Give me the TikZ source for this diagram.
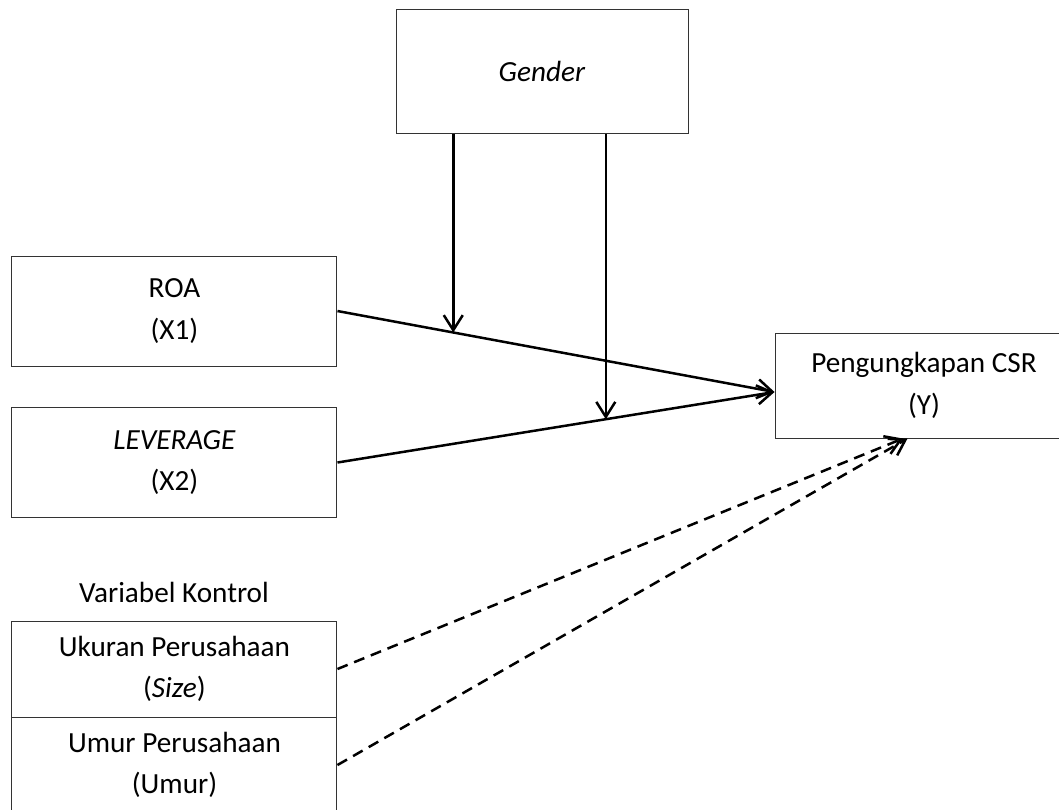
\documentclass[tikz,border=0pt]{standalone}
\usepackage{fontspec}
\setmainfont{Carlito}
\usetikzlibrary{positioning,arrows.meta,calc}

\begin{document}
\begin{tikzpicture}[>={Straight Barb[length=7.5pt,width=9.5pt]}, font=\fontsize{14.6}{20.8}\selectfont,
    b/.style={draw=black!80, line width=0.5pt, align=center, minimum width=5.711cm, minimum height=1.933cm},
    link/.style={->, line width=1.25pt},
    ctrl/.style={->, line width=1.25pt, dash pattern=on 5.5pt off 3.5pt}]
  \useasboundingbox (0,0) rectangle (18.61,14.217);

  \node[b, minimum width=5.131cm, minimum height=2.179cm] (gen) at (9.525,12.969) {\textit{Gender}};
  \node[b] (roa) at (3.066,8.751) {ROA\\(X1)};
  \node[b] (lev) at (3.066,6.089) {\textit{LEVERAGE}\\(X2)};
  \node[b, minimum width=5.237cm, minimum height=1.845cm] (csr) at (16.238,7.442) {Pengungkapan CSR\\(Y)};

  \node (kon) at (3.058,3.813) {Variabel Kontrol};
  \node[b, minimum height=1.687cm] (size) at (3.066,2.460) {Ukuran Perusahaan\\(\textit{Size})};
  \node[b, minimum height=1.687cm] (umur) at (3.066,0.773) {Umur Perusahaan\\(Umur)};

  % main paths
  \coordinate (hit) at ($(csr.west)+(0,-0.114)$);
  \draw[link] (roa.east) -- (hit);
  \draw[link] (lev.east) -- (hit);

  % moderation by gender
  \coordinate (m1) at ($(roa.east)!0.265!(hit)$);
  \coordinate (m2) at ($(lev.east)!0.614!(hit)$);
  \foreach \m in {m1,m2} \draw[link] (gen.south -| \m) -- (\m);

  % control variables
  \coordinate (d1) at ($(csr.south)+(-0.37,0)$);
  \coordinate (d2) at ($(csr.south)+(-0.29,0)$);
  \draw[ctrl] (size.east) -- (d1);
  \draw[ctrl] (umur.east) -- (d2);
\end{tikzpicture}
\end{document}
